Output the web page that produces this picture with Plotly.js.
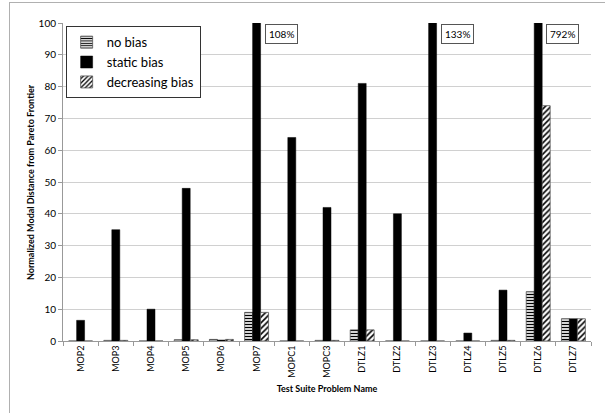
<!DOCTYPE html>
<html>
<head>
<meta charset="utf-8">
<script src="https://cdn.plot.ly/plotly-3.0.1.min.js"></script>
<style>
body{margin:0;padding:0;background:#fff;}
#wrap{position:relative;width:605px;height:413px;}
#chart{width:605px;height:413px;}
.fl{position:absolute;background:#b0b0b0;pointer-events:none;}
</style>
</head>
<body>
<div id="wrap">
<div id="chart"></div>
<div class="fl" style="left:9px;top:2px;width:596px;height:1px;"></div>
<div class="fl" style="left:9px;top:2px;width:1px;height:411px;"></div>
</div>
<script>
const categories = ["MOP2","MOP3","MOP4","MOP5","MOP6","MOP7","MOPC1","MOPC3","DTLZ1","DTLZ2","DTLZ3","DTLZ4","DTLZ5","DTLZ6","DTLZ7"];
const noBias = [0, 0.2, 0, 0.4, 0.5, 9, 0, 0.2, 3.5, 0, 0, 0, 0.2, 15.5, 7];
const staticBias = [6.5, 35, 10, 48, 0.3, 108, 64, 42, 81, 40, 133, 2.5, 16, 792, 7];
const decreasingBias = [0, 0.2, 0, 0.4, 0.5, 9, 0, 0.2, 3.5, 0, 0, 0, 0.2, 74, 7];
const seriesNames = ["no bias", "static bias", "decreasing bias"];
const yTitle = "Normalized Modal Distance from Pareto Frontier";
const xTitle = "Test Suite Problem Name";
const yMax = 100;

const font = "Lato, 'Open Sans', sans-serif";

const traces = [
  {
    type: "bar", name: seriesNames[0], x: categories, y: noBias,
    marker: {color: "white", line: {color: "#555", width: 0.8},
      pattern: {shape: "-", fgcolor: "#000", bgcolor: "#fff", size: 3, solidity: 0.45}}
  },
  {
    type: "bar", name: seriesNames[1], x: categories, y: staticBias,
    marker: {color: "#000", line: {color: "#000", width: 0.5}}
  },
  {
    type: "bar", name: seriesNames[2], x: categories, y: decreasingBias,
    marker: {color: "white", line: {color: "#555", width: 0.8},
      pattern: {shape: "/", fgcolor: "#000", bgcolor: "#fff", size: 4, solidity: 0.4}}
  }
];

const annotations = [];
staticBias.forEach((v, i) => {
  if (v > yMax) {
    annotations.push({
      x: categories[i], y: yMax, xref: "x", yref: "y",
      text: v + "%", showarrow: false,
      xanchor: "left", yanchor: "top", xshift: 8, yshift: -1,
      bordercolor: "#555", borderwidth: 1, borderpad: 3, bgcolor: "#fff",
      font: {family: font, size: 10, color: "#000"}
    });
  }
});
annotations.push({
  xref: "paper", yref: "paper", x: -0.0625, y: 0.5, textangle: -90,
  text: "<b>" + yTitle + "</b>", showarrow: false,
  xanchor: "center", yanchor: "middle",
  font: {family: font, size: 9, color: "#000"}
});

const layout = {
  width: 605, height: 413,
  margin: {l: 63, r: 14, t: 23, b: 72},
  paper_bgcolor: "#fff", plot_bgcolor: "#fff",
  barmode: "group", bargap: 0.32, bargroupgap: 0,
  showlegend: true,
  legend: {
    x: 0.005, y: 0.99, xanchor: "left", yanchor: "top",
    bordercolor: "#333", borderwidth: 1, bgcolor: "#fff",
    font: {family: font, size: 13, color: "#000"},
    tracegroupgap: 4, itemwidth: 30
  },
  xaxis: {
    type: "category", tickangle: -90, tickson: "boundaries",
    ticks: "outside", ticklen: 4, tickcolor: "#999",
    showline: true, linecolor: "#999", linewidth: 1,
    showgrid: false,
    tickfont: {family: font, size: 9, color: "#000"},
    title: {text: "<b>" + xTitle + "</b>", font: {family: font, size: 9, color: "#000"}, standoff: 8}
  },
  yaxis: {
    range: [0, yMax], dtick: 10, tick0: 0,
    ticks: "outside", ticklen: 4, tickcolor: "#999",
    showline: true, linecolor: "#999", linewidth: 1,
    showgrid: true, gridcolor: "#d0d0d0", gridwidth: 1,
    zeroline: false,
    tickfont: {family: font, size: 10, color: "#000"}
  },
  annotations: annotations
};

Plotly.newPlot("chart", traces, layout, {displayModeBar: false, staticPlot: true});
</script>
</body>
</html>
